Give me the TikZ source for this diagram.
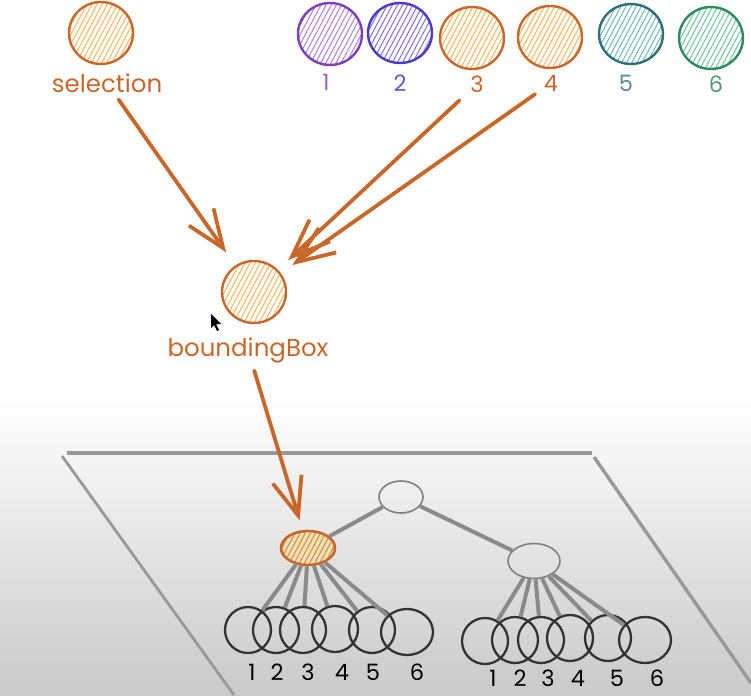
\documentclass[tikz,border=0pt]{standalone}
\usepackage{fontspec}
\setmainfont{Poppins}
\usetikzlibrary{shapes.geometric,arrows.meta,patterns.meta}
\definecolor{orangeline}{HTML}{C8672A}
\definecolor{orangefill}{HTML}{F0B55A}
\definecolor{purpleline}{HTML}{7E3FB8}
\definecolor{purplefill}{HTML}{B07BE0}
\definecolor{blueline}{HTML}{4B3BC8}
\definecolor{bluefill}{HTML}{7A6EE6}
\definecolor{tealline}{HTML}{2F7078}
\definecolor{tealfill}{HTML}{6DB6C2}
\definecolor{greenline}{HTML}{2D8A5C}
\definecolor{greenfill}{HTML}{6CC49A}
\definecolor{planeline}{HTML}{999999}
\definecolor{edgeline}{HTML}{8A8A8A}
\definecolor{leafline}{HTML}{333333}
\begin{document}
\begin{tikzpicture}[x=1pt,y=-1pt,
  ball/.style={ellipse, inner sep=0pt, line width=2.4pt, minimum width=64pt, minimum height=62pt},
  hatch/.style={pattern={Lines[angle=62,distance=4.5pt,line width=1pt]}, pattern color=#1},
  lab/.style={inner sep=2pt, font=\fontsize{24.5}{28}\selectfont},
  num/.style={inner sep=2pt, font=\fontsize{22.5}{26}\selectfont},
  arr/.style={draw=orangeline, line width=3.8pt, line cap=round,
    -{Straight Barb[length=38pt,width=30pt,line width=3.8pt]}},
  plane/.style={draw=planeline, line width=3.4pt},
  inner/.style={ellipse, draw=gray, line width=1.6pt, inner sep=0pt},
  leaf/.style={ellipse, draw=leafline, line width=2.3pt, inner sep=0pt, minimum width=46pt, minimum height=46pt},
  edge/.style={draw=edgeline, line width=4pt}]
\useasboundingbox (0,0) rectangle (751,695);
\shade[top color=white, bottom color=gray!42] (0,400) rectangle (751,695);
% plane
\draw[plane] (67,453) -- (592,453);
\draw[plane, line width=2.8pt] (62,456) -- (234,695);
\draw[plane] (594,457) -- (751,683);
% top row
\node[ball, draw=orangeline, hatch=orangefill] (sel) at (101,33) {};
\node[lab, text=orangeline] (sellab) at (107,83) {selection};
\node[ball, draw=purpleline, hatch=purplefill] (c1) at (330,34) {};
\node[ball, minimum height=60pt, draw=blueline, hatch=bluefill] (c2) at (400,33) {};
\node[ball, draw=orangeline, hatch=orangefill] (c3) at (472,38) {};
\node[ball, draw=orangeline, hatch=orangefill] (c4) at (550,37) {};
\node[ball, minimum height=60pt, draw=tealline, hatch=tealfill] (c5) at (631,34) {};
\node[ball, draw=greenline, hatch=greenfill] (c6) at (711,38) {};
\node[num, text=purpleline!80] (n1) at (326,82) {1};
\node[num, text=blueline!85] (n2) at (400,83) {2};
\node[num, text=orangeline] (n3) at (477,84) {3};
\node[num, text=orangeline] (n4) at (551,83) {4};
\node[num, text=tealline!80] (n5) at (626,83) {5};
\node[num, text=greenline!85] (n6) at (716,84) {6};
% boundingBox
\node[ball, draw=orangeline, hatch=orangefill] (bb) at (254,292) {};
\node[lab, text=orangeline] (bblab) at (248,350) {boundingBox};
\fill (211,314) -- (211,328) -- (214,325) -- (217,331) -- (219,330) -- (216,324) -- (221,324) -- cycle;
\draw[arr, shorten <=6pt, shorten >=16pt] (sellab) -- (bb);
\draw[arr, shorten <=12pt, shorten >=14pt] (n3) -- (bb);
\draw[arr, shorten <=8pt, shorten >=14pt] (n4) -- (bb);
% tree
\node[inner, minimum width=44pt, minimum height=32pt] (root) at (401,497) {};
\node[ellipse, draw=orangeline, line width=2.6pt, inner sep=0pt, minimum width=54pt, minimum height=34pt,
  preaction={fill=orangefill!45}, hatch=orangefill!80!black] (ln) at (308,548) {};
\node[inner, minimum width=52pt, minimum height=35pt] (rn) at (534,561) {};
\draw[arr, shorten <=6pt, shorten >=10pt] (bblab) -- (ln);
\draw[edge] (root) -- (ln);
\draw[edge] (root) -- (rn);
\node[leaf] (la1) at (248,630) {};
\node[leaf] (la2) at (276,630) {};
\node[leaf] (la3) at (303,630) {};
\node[leaf] (la4) at (335,629) {};
\node[leaf] (la5) at (372,630) {};
\node[leaf, minimum width=52pt] (la6) at (407,632) {};
\node[leaf] (ra1) at (485,641) {};
\node[leaf] (ra2) at (515,640) {};
\node[leaf] (ra3) at (541,640) {};
\node[leaf] (ra4) at (570,638) {};
\node[leaf] (ra5) at (608,638) {};
\node[leaf, minimum width=52pt] (ra6) at (645,640) {};
\draw[edge] (ln) -- (la1);
\draw[edge] (ln) -- (la2);
\draw[edge] (ln) -- (la3);
\draw[edge] (ln) -- (la4);
\draw[edge] (ln) -- (la5);
\draw[edge] (ln) -- (la6);
\draw[edge] (rn) -- (ra1);
\draw[edge] (rn) -- (ra2);
\draw[edge] (rn) -- (ra3);
\draw[edge] (rn) -- (ra4);
\draw[edge] (rn) -- (ra5);
\draw[edge] (rn) -- (ra6);
\node[num] (la1n) at (252,672) {1};
\node[num] (la2n) at (277,672) {2};
\node[num] (la3n) at (308,672) {3};
\node[num] (la4n) at (342,672) {4};
\node[num] (la5n) at (373,672) {5};
\node[num] (la6n) at (417,672) {6};
\node[num] (ra1n) at (493,678) {1};
\node[num] (ra2n) at (520,678) {2};
\node[num] (ra3n) at (548,678) {3};
\node[num] (ra4n) at (578,678) {4};
\node[num] (ra5n) at (617,678) {5};
\node[num] (ra6n) at (657,678) {6};
\end{tikzpicture}
\end{document}
